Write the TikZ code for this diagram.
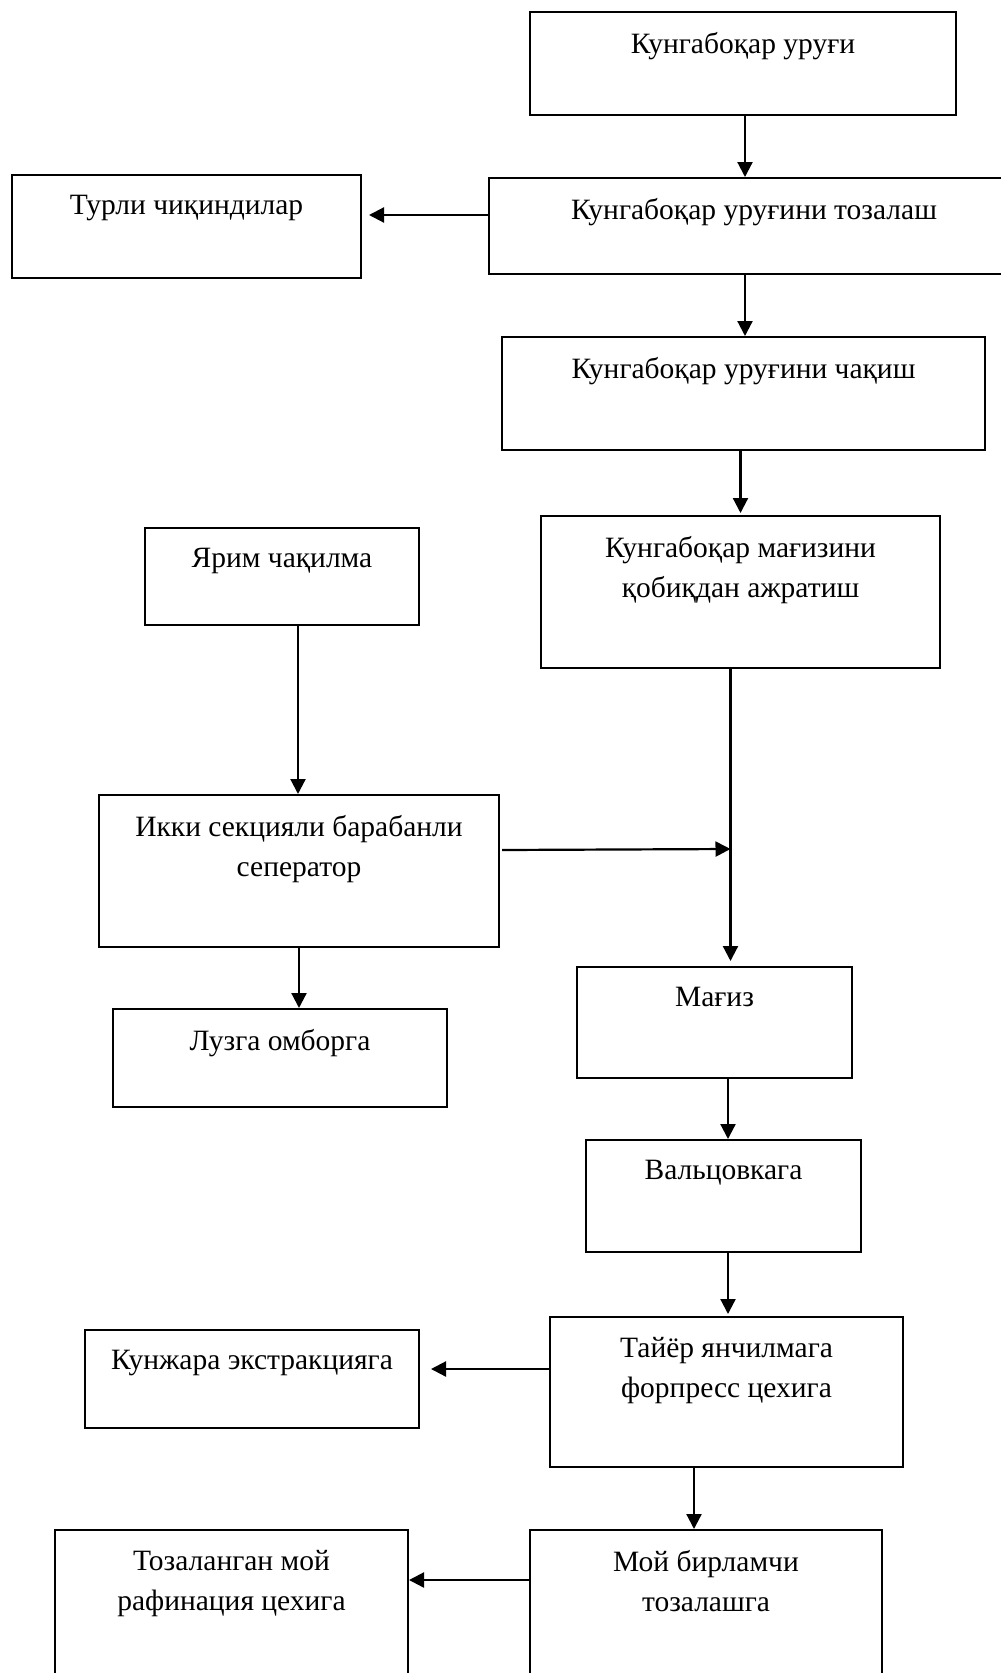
\documentclass[tikz,border=0pt]{standalone}
\usepackage{fontspec}
\setmainfont{Liberation Serif}
\usetikzlibrary{calc,positioning,arrows.meta}

\begin{document}
\begin{tikzpicture}[x=1pt,y=-1pt,>={Triangle[length=15pt,width=15pt]},
  line width=2pt,
  stage/.style={draw,anchor=north west,inner sep=0pt},
  txt/.style={inner sep=0pt,align=center,font=\fontsize{29.5}{40}\selectfont},
  flow/.style={->,line width=2.2pt}]
  \useasboundingbox (0,0) rectangle (1001,1673);
  % --- boxes: top left corner, size in px ---
  \node[stage,minimum width=426pt,minimum height=103pt] (seed) at (529,11) {};
  \node[stage,minimum width=530pt,minimum height=96pt] (clean) at (488,177) {};
  \node[stage,minimum width=349pt,minimum height=103pt] (waste) at (11,174) {};
  \node[stage,minimum width=483pt,minimum height=113pt] (crack) at (501,336) {};
  \node[stage,minimum width=399pt,minimum height=152pt] (hull) at (540,515) {};
  \node[stage,minimum width=274pt,minimum height=97pt] (half) at (144,527) {};
  \node[stage,minimum width=400pt,minimum height=152pt] (sep) at (98,794) {};
  \node[stage,minimum width=334pt,minimum height=98pt] (husk) at (112,1008) {};
  \node[stage,minimum width=275pt,minimum height=111pt] (kern) at (576,966) {};
  \node[stage,minimum width=275pt,minimum height=112pt] (roll) at (585,1139) {};
  \node[stage,minimum width=353pt,minimum height=150pt] (press) at (549,1316) {};
  \node[stage,minimum width=334pt,minimum height=98pt] (cake) at (84,1329) {};
  \node[stage,minimum width=352pt,minimum height=170pt] (oil) at (529,1529) {};
  \node[stage,minimum width=353pt,minimum height=170pt] (refined) at (54,1529) {};
  % --- texts near the top of each box ---
  \node[txt,below=20pt of seed.north] (seed-t) {Кунгабоқар уруғи};
  \node[txt,below=20pt of clean.north] (clean-t) {Кунгабоқар уруғини тозалаш};
  \node[txt,below=20pt of waste.north] (waste-t) {Турли чиқиндилар};
  \node[txt,below=20pt of crack.north] (crack-t) {Кунгабоқар уруғини чақиш};
  \node[txt,below=20pt of hull.north] (hull-t) {Кунгабоқар мағизини\\қобиқдан ажратиш};
  \node[txt,below=20pt of half.north] (half-t) {Ярим чақилма};
  \node[txt,below=20pt of sep.north] (sep-t) {Икки секцияли барабанли\\сеператор};
  \node[txt,below=20pt of husk.north] (husk-t) {Лузга омборга};
  \node[txt,below=20pt of kern.north] (kern-t) {Мағиз};
  \node[txt,below=20pt of roll.north] (roll-t) {Вальцовкага};
  \node[txt,below=20pt of press.north] (press-t) {Тайёр янчилмага\\форпресс цехига};
  \node[txt,below=20pt of cake.north] (cake-t) {Кунжара экстракцияга};
  \node[txt,below=20pt of oil.north] (oil-t) {Мой бирламчи\\тозалашга};
  \node[txt,below=20pt of refined.north] (refined-t) {Тозаланган мой\\рафинация цехига};
  % --- start points of the connectors ---
  \coordinate (a1) at ($(seed.south)+(2,0)$);
  \coordinate (a2) at ($(clean.west)+(0,-11)$);
  \coordinate (e2) at ($(waste.east)+(7,0)$);
  \coordinate (a3) at (clean.south -| a1);
  \coordinate (a4) at ($(crack.south)+(-3,0)$);
  \coordinate (a5) at ($(hull.south)+(-10,0)$);
  \coordinate (join) at (a5 |- 0,849);
  \coordinate (b1) at ($(half.south)+(16,0)$);
  \coordinate (b2) at ($(sep.east)+(2,-21)$);
  \coordinate (c1) at ($(kern.south)+(13.5,0)$);
  \coordinate (c2) at ($(roll.south)+(4.5,0)$);
  \coordinate (c3) at (press.west |- 0,1369);
  \coordinate (e3) at ($(cake.east)+(11,0)$);
  \coordinate (c4) at ($(press.south)+(-32.5,0)$);
  \coordinate (c5) at (oil.west |- 0,1580);
  % --- main line ---
  \draw[flow] (a1) -- (a1 |- clean.north);
  \draw[flow] (a2) -- (a2 -| e2);
  \draw[flow] (a3) -- (a3 |- crack.north);
  \draw[flow] (a4) -- ($(a4 |- hull.north)+(0,-2)$);
  \draw[flow] (a5) -- ($(a5 |- kern.north)+(0,-5)$);
  % --- side line ---
  \draw[flow] (b1) -- (b1 |- sep.north);
  \draw[flow] (b2) -- (join);
  \draw[flow] (sep.south) -- (sep.south |- husk.north);
  % --- lower part ---
  \draw[flow] (c1) -- (c1 |- roll.north);
  \draw[flow] (c2) -- ($(c2 |- press.north)+(0,-2)$);
  \draw[flow] (c3) -- (c3 -| e3);
  \draw[flow] (c4) -- (c4 |- oil.north);
  \draw[flow] (c5) -- (c5 -| refined.east);
\end{tikzpicture}
\end{document}
